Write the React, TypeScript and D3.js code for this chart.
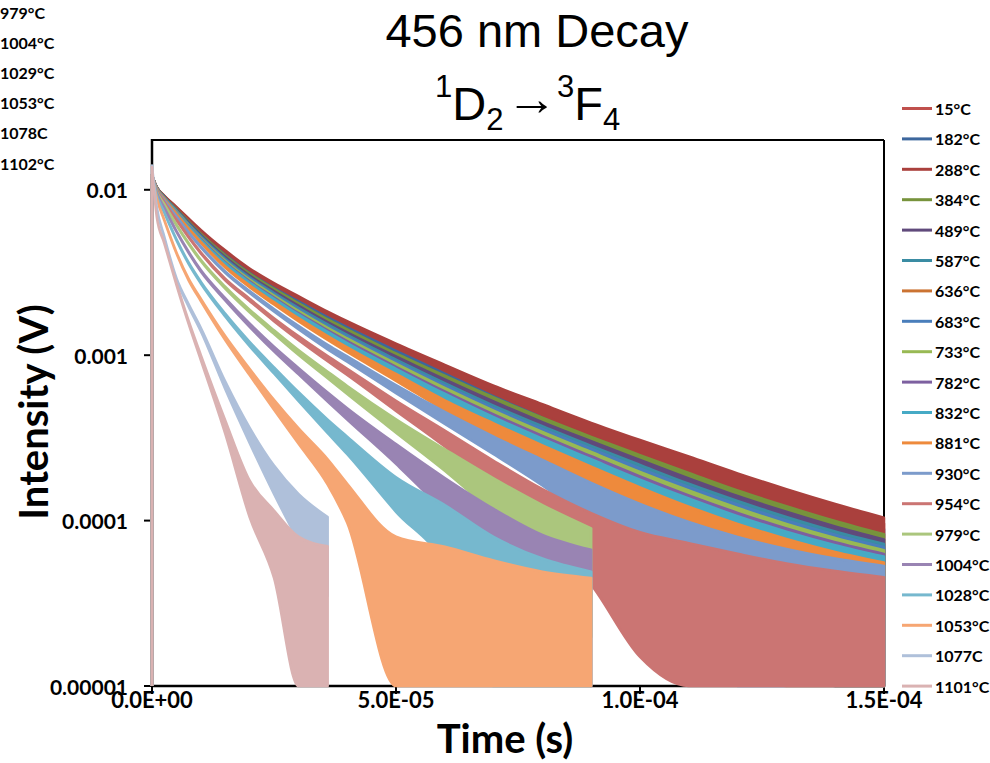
import React from 'react';
import * as d3 from 'd3';

// time grid (s)
const times = [0, 1e-6, 2.5e-6, 5e-6, 7.5e-6, 1e-5, 1.5e-5, 2e-5, 2.5e-5, 3e-5, 3.6e-5, 4e-5, 5e-5, 6e-5, 7e-5, 8e-5, 9e-5, 1e-4, 1.1e-4, 1.2e-4, 1.3e-4, 1.4e-4, 1.5e-4];

const labels = ['15°C', '182°C', '288°C', '384°C', '489°C', '587°C', '636°C', '683°C', '733°C', '782°C', '832°C', '881°C', '930°C', '954°C', '979°C', '1004°C', '1028°C', '1053°C', '1077C', '1101°C'];
const colors = ['#C0504D', '#3D679D', '#AA403D', '#77933C', '#604A7B', '#3A8CA3', '#CB7332', '#4A7EBB', '#98B954', '#7D60A0', '#46AAC5', '#EE8A3C', '#7C9BCB', '#CB7573', '#ABC67D', '#9984B3', '#76B8CE', '#F6A673', '#AFC0DA', '#DAB2B2'];

// intensity (V), mid-line of each noisy trace
const s15 = [0.0122, 0.01033, 0.00916, 0.00778, 0.00659, 0.00558, 0.00417, 0.00323, 0.00262, 0.00217, 0.00173, 0.00151, 0.00108, 0.000798, 0.000587, 0.000438, 0.00033, 0.000251, 0.000191, 0.000144, 0.000108, 0.0000813, 0.0000611];
const s182 = [0.0122, 0.0103, 0.00912, 0.00771, 0.00649, 0.0055, 0.00407, 0.00315, 0.00255, 0.0021, 0.00167, 0.00145, 0.00104, 0.000755, 0.000552, 0.000409, 0.000308, 0.000232, 0.000174, 0.00013, 0.0000968, 0.0000723, 0.000054];
const s288 = [0.0122, 0.01035, 0.0092, 0.00785, 0.00668, 0.00569, 0.00427, 0.00331, 0.00269, 0.00224, 0.0018, 0.00157, 0.00114, 0.00084, 0.00062, 0.00047, 0.000355, 0.000272, 0.000209, 0.000158, 0.00012, 0.0000912, 0.0000692];
const s384 = [0.0122, 0.01028, 0.00908, 0.00762, 0.0064, 0.0054, 0.00398, 0.00308, 0.00248, 0.00203, 0.00161, 0.0014, 0.00099, 0.000716, 0.00052, 0.000384, 0.000286, 0.000214, 0.000159, 0.000117, 0.0000871, 0.0000644, 0.0000476];
const s489 = [0.0122, 0.01026, 0.00904, 0.00755, 0.00631, 0.00531, 0.00389, 0.003, 0.00241, 0.00196, 0.00155, 0.00134, 0.000948, 0.000678, 0.00049, 0.000359, 0.000267, 0.000198, 0.000145, 0.000106, 0.0000782, 0.0000573, 0.000042];
const s587 = [0.0122, 0.01023, 0.009, 0.00748, 0.00621, 0.00521, 0.0038, 0.00292, 0.00234, 0.0019, 0.0015, 0.00129, 0.000906, 0.000643, 0.000461, 0.000337, 0.000248, 0.000182, 0.000132, 0.0000964, 0.0000702, 0.000051, 0.0000372];
const s636 = [0.0122, 0.01019, 0.00891, 0.00736, 0.00607, 0.00507, 0.00366, 0.00281, 0.00224, 0.0018, 0.00141, 0.00121, 0.00084, 0.000589, 0.000419, 0.000303, 0.00022, 0.000158, 0.000114, 0.0000817, 0.0000586, 0.000042, 0.0000302];
const s683 = [0.0122, 0.01021, 0.00895, 0.00743, 0.00615, 0.00515, 0.00375, 0.00288, 0.0023, 0.00186, 0.00146, 0.00126, 0.000879, 0.000621, 0.000444, 0.000323, 0.000237, 0.000172, 0.000125, 0.0000902, 0.0000653, 0.0000472, 0.0000342];
const s733 = [0.0122, 0.0102, 0.00892, 0.00738, 0.00609, 0.00509, 0.00369, 0.00283, 0.00226, 0.00182, 0.00143, 0.00123, 0.000853, 0.000599, 0.000427, 0.000309, 0.000225, 0.000162, 0.000117, 0.0000842, 0.0000605, 0.0000435, 0.0000313];
const s782 = [0.0122, 0.01018, 0.00888, 0.00731, 0.00601, 0.00501, 0.00361, 0.00276, 0.0022, 0.00176, 0.00138, 0.00118, 0.000816, 0.000569, 0.000403, 0.00029, 0.00021, 0.00015, 0.000107, 0.0000764, 0.0000545, 0.0000389, 0.0000278];
const s832 = [0.0122, 0.01016, 0.00885, 0.00726, 0.00596, 0.00495, 0.00356, 0.00272, 0.00216, 0.00173, 0.00135, 0.00115, 0.000793, 0.00055, 0.000387, 0.000278, 0.0002, 0.000142, 0.000101, 0.0000714, 0.0000508, 0.0000361, 0.0000256];
const s881 = [0.0122, 0.01012, 0.00879, 0.00715, 0.00581, 0.00481, 0.00342, 0.00261, 0.00206, 0.00164, 0.00127, 0.00108, 0.000735, 0.000499, 0.000352, 0.00025, 0.000177, 0.000124, 0.0000865, 0.0000605, 0.0000425, 0.0000297, 0.0000208];
const s930 = [0.0122, 0.01002, 0.00863, 0.0069, 0.00552, 0.00452, 0.00318, 0.00241, 0.00187, 0.00147, 0.00112, 0.000948, 0.000624, 0.000419, 0.000287, 0.000198, 0.000134, 0.0000912, 0.0000631, 0.0000447, 0.0000324, 0.000024, 0.0000182];
const s954 = [0.0122, 0.0099, 0.00841, 0.00658, 0.00518, 0.00416, 0.00287, 0.00216, 0.00164, 0.00127, 0.000953, 0.000793, 0.000495, 0.000315, 0.000195, 0.00012, 0.000076, 0.00005, 0.000038, 0.000028, 0.00002, 0.0000145, 0.0000105];
const s979 = [0.0122, 0.00975, 0.00817, 0.00614, 0.00473, 0.00374, 0.00256, 0.00185, 0.00138, 0.00104, 0.00076, 0.000617, 0.000375, 0.000235, 0.000145, 0.0000891, 0.0000548, null, null, null, null, null, null];
const s1004 = [0.0122, 0.00953, 0.0078, 0.00561, 0.00419, 0.00324, 0.00218, 0.00152, 0.00109, 0.000803, 0.00056, 0.000443, 0.000255, 0.000146, 0.0000828, 0.000047, 0.0000316, null, null, null, null, null, null];
const s1028 = [0.0122, 0.00925, 0.0073, 0.005, 0.0036, 0.00275, 0.00175, 0.00117, 0.00081, 0.000564, 0.000373, 0.000287, 0.000148, 0.0000891, 0.0000447, 0.000024, 0.0000141, null, null, null, null, null, null];
const s1053 = [0.0122, 0.00885, 0.00658, 0.00416, 0.00287, 0.00216, 0.00127, 0.000793, 0.000502, 0.000327, 0.0002, 0.000132, 0.000045, 0.0000345, 0.0000224, 0.0000141, 0.00001, null, null, null, null, null, null];
const s1077 = [0.014, 0.0078, 0.0052, 0.0029, 0.002, 0.00143, 0.00066, 0.00033, 0.00018, 0.00011, 0.00007, null, null, null, null, null, null, null, null, null, null, null, null];
const s1101 = [0.0137, 0.0068, 0.0048, 0.0027, 0.00158, 0.00097, 0.00037, 0.00014, 0.00008, 0.000045, 0.000035, null, null, null, null, null, null, null, null, null, null, null, null];

const seriesValues = [s15, s182, s288, s384, s489, s587, s636, s683, s733, s782, s832, s881, s930, s954, s979, s1004, s1028, s1053, s1077, s1101];

// amplitude of the signal noise (V) seen on the traces
const noiseAmplitude = 3.5e-5;

const axisMin = 1e-5;
const axisMax = 0.02;
const xTicks = [0, 5e-5, 1e-4, 1.5e-4];
const xTickLabels = ['0.0E+00', '5.0E-05', '1.0E-04', '1.5E-04'];
const yTicks = [1e-5, 1e-4, 1e-3, 1e-2];
const yTickLabels = ['0.00001', '0.0001', '0.001', '0.01'];
const strayLabels = ['979°C', '1004°C', '1029°C', '1053°C', '1078C', '1102°C'];

const BOLD = "Lato, 'Open Sans', sans-serif";
const ARIAL = "'Liberation Sans', Arial, sans-serif";

export default function App() {
  const W = 990, H = 763;
  const left = 152, right = 884, top = 140, bottom = 686;
  const x = d3.scaleLinear().domain([0, 1.5e-4]).range([left, right]);
  const y = d3.scaleLog().domain([axisMin, axisMax]).range([bottom, top]);

  const area = d3.area<[number, number]>()
    .x(d => x(d[0]))
    .y0(d => y(Math.max(d[1] - noiseAmplitude, axisMin)))
    .y1(d => y(d[1] + noiseAmplitude))
    .curve(d3.curveMonotoneX);

  const legendY = (i: number) => 108.5 + i * 30.4;

  return (
    <div style={{ position: 'absolute', left: 0, top: 0 }}>
      <svg width={W} height={H} style={{ display: 'block', background: '#fff' }}>
        <defs>
          <clipPath id="plotClip">
            <rect x={left - 2} y={top} width={right - left + 4} height={bottom - top + 2} />
          </clipPath>
        </defs>

        {/* stray legend fragment top-left */}
        {strayLabels.map((s, i) => (
          <text key={s} x={0} y={12 + i * 30.2} fontFamily={BOLD} fontWeight="bold" fontSize={16} dominantBaseline="central" fill="#000">{s}</text>
        ))}

        {/* title */}
        <text x={537} y={47} textAnchor="middle" fontFamily={ARIAL} fontSize={47} fill="#000">456 nm Decay</text>
        <text x={435} y={120} fontFamily={ARIAL} fontSize={47} fill="#000">
          <tspan fontSize={31} dy={-23}>1</tspan>
          <tspan dy={23}>D</tspan>
          <tspan fontSize={31} dy={10}>2</tspan>
        </text>
        <text x={506} y={115} fontFamily={ARIAL} fontSize={47} fill="#000" textLength={51} lengthAdjust="spacingAndGlyphs">→</text>
        <text x={557} y={120} fontFamily={ARIAL} fontSize={47} fill="#000">
          <tspan fontSize={31} dy={-23}>3</tspan>
          <tspan dy={23}>F</tspan>
          <tspan fontSize={31} dy={10}>4</tspan>
        </text>

        {/* frame */}
        <line x1={left} x2={right} y1={top} y2={top} stroke="#000" strokeWidth={2} />
        <line x1={right} x2={right} y1={top} y2={bottom} stroke="#000" strokeWidth={2} />
        <line x1={left} x2={left} y1={top - 1} y2={bottom + 1} stroke="#000" strokeWidth={2.5} />
        <line x1={left} x2={right + 1} y1={bottom} y2={bottom} stroke="#000" strokeWidth={2.5} />

        {/* ticks */}
        {yTicks.map((t, i) => (
          <g key={'y' + i}>
            <line x1={left - 8} x2={left} y1={y(t)} y2={y(t)} stroke="#000" strokeWidth={2} />
            <text x={128} y={y(t)} textAnchor="end" dominantBaseline="central" fontFamily={BOLD} fontWeight="bold" fontSize={21} fill="#000">{yTickLabels[i]}</text>
          </g>
        ))}
        {xTicks.map((t, i) => (
          <g key={'x' + i}>
            <line x1={x(t)} x2={x(t)} y1={bottom} y2={bottom + 8} stroke="#000" strokeWidth={2} />
            <text x={x(t)} y={699} textAnchor="middle" dominantBaseline="central" fontFamily={BOLD} fontWeight="bold" fontSize={22} fill="#000">{xTickLabels[i]}</text>
          </g>
        ))}

        {/* series */}
        <g clipPath="url(#plotClip)">
          {seriesValues.map((vals, si) => {
            const pts = times
              .map((t, i) => [t, vals[i]] as [number, number | null])
              .filter(d => d[1] != null) as [number, number][];
            return (
              <g key={labels[si]}>
                <line x1={x(0)} x2={x(0)} y1={y(axisMin)} y2={y(vals[0] as number)} stroke={colors[si]} strokeWidth={2.5} />
                <path d={area(pts) || ''} fill={colors[si]} stroke={colors[si]} strokeWidth={2.5} strokeLinejoin="round" />
              </g>
            );
          })}
        </g>

        {/* axis titles */}
        <text x={505} y={753} textAnchor="middle" fontFamily={BOLD} fontWeight="bold" fontSize={40} fill="#000">Time (s)</text>
        <text transform="translate(48,412) rotate(-90)" textAnchor="middle" fontFamily={BOLD} fontWeight="bold" fontSize={40} fill="#000">Intensity (V)</text>

        {/* legend */}
        {labels.map((l, i) => (
          <g key={'lg' + i}>
            <line x1={902} x2={932} y1={legendY(i)} y2={legendY(i)} stroke={colors[i]} strokeWidth={3} />
            <text x={935} y={legendY(i)} dominantBaseline="central" fontFamily={BOLD} fontWeight="bold" fontSize={16} fill="#000">{l}</text>
          </g>
        ))}
      </svg>
    </div>
  );
}
